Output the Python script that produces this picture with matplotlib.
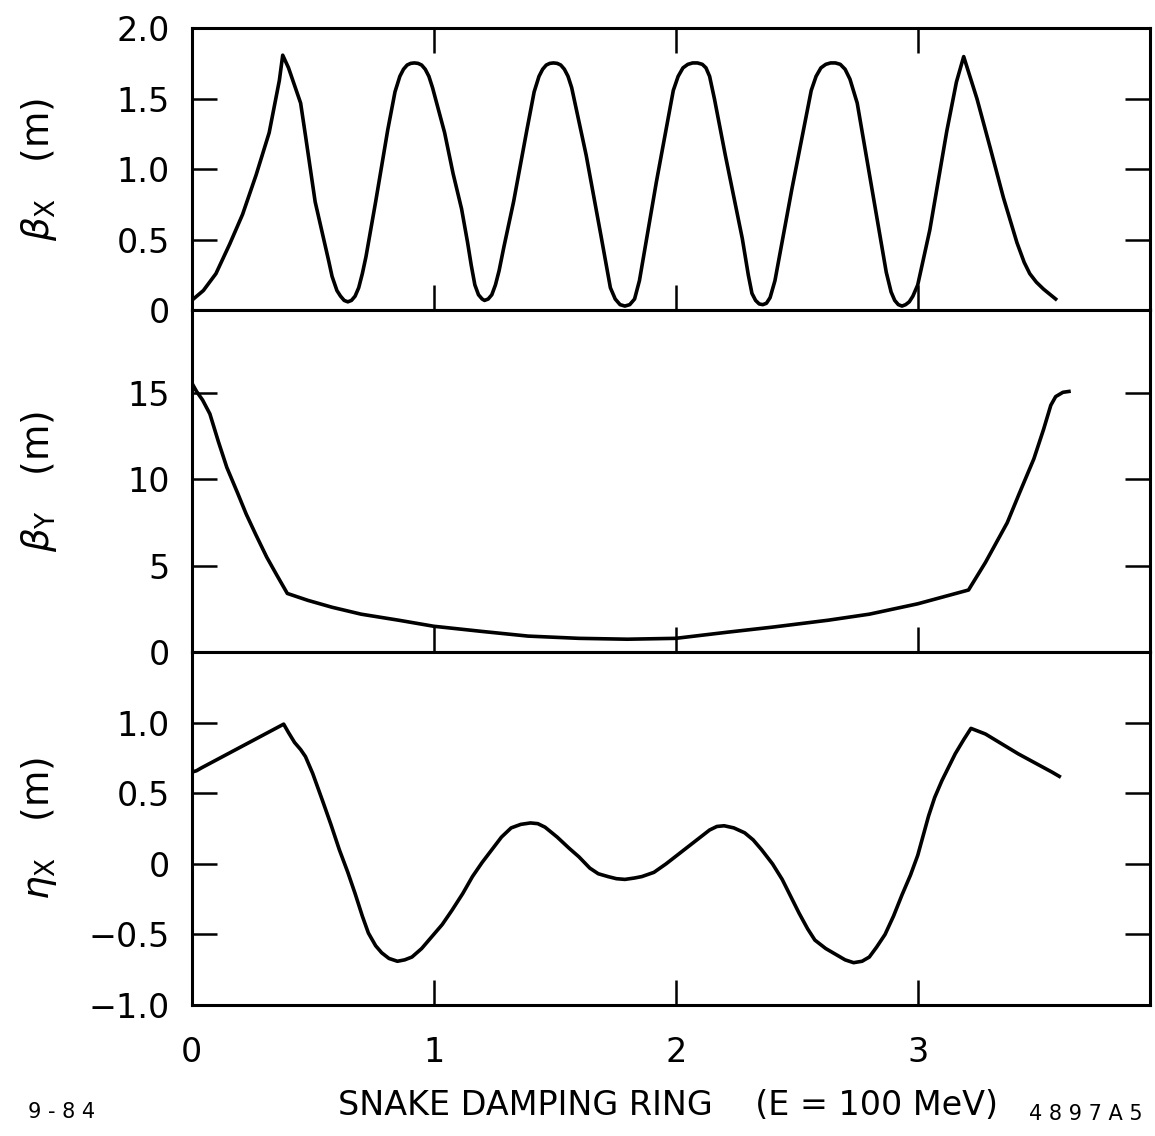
import matplotlib
matplotlib.use("Agg")
import matplotlib.pyplot as plt

# beta_x (m) along the ring
bx_s = [0.00, 0.048, 0.10, 0.157, 0.21, 0.266, 0.32, 0.362, 0.376, 0.40, 0.45, 0.47,
        0.51, 0.566, 0.58, 0.60, 0.615, 0.63, 0.645, 0.66, 0.675, 0.69, 0.705, 0.72,
        0.76, 0.81, 0.84, 0.86, 0.875, 0.89, 0.905, 0.92, 0.935, 0.95, 0.965, 0.98,
        0.995, 1.02, 1.045, 1.08, 1.115, 1.14, 1.155, 1.17, 1.185, 1.20, 1.21, 1.225,
        1.24, 1.255, 1.27, 1.29, 1.33, 1.385, 1.415, 1.435, 1.45, 1.465, 1.48, 1.495,
        1.51, 1.525, 1.54, 1.555, 1.57, 1.59, 1.61, 1.63, 1.69, 1.73, 1.75, 1.77,
        1.79, 1.81, 1.83, 1.85, 1.92, 1.99, 2.01, 2.03, 2.05, 2.07, 2.09, 2.11, 2.125,
        2.14, 2.16, 2.205, 2.275, 2.30, 2.315, 2.33, 2.345, 2.36, 2.375, 2.39, 2.41,
        2.48, 2.56, 2.58, 2.60, 2.62, 2.64, 2.66, 2.68, 2.70, 2.72, 2.75, 2.82, 2.87,
        2.89, 2.905, 2.92, 2.935, 2.95, 2.965, 2.98, 3.00, 3.05, 3.12, 3.16, 3.19,
        3.245, 3.30, 3.354, 3.41, 3.44, 3.463, 3.49, 3.52, 3.57]
bx_v = [0.07, 0.14, 0.26, 0.47, 0.68, 0.96, 1.26, 1.63, 1.81, 1.72, 1.47, 1.24,
        0.77, 0.35, 0.24, 0.14, 0.10, 0.07, 0.06, 0.07, 0.10, 0.16, 0.26, 0.38,
        0.77, 1.28, 1.55, 1.66, 1.71, 1.74, 1.752, 1.755, 1.752, 1.74, 1.71, 1.66,
        1.58, 1.42, 1.26, 0.97, 0.72, 0.48, 0.32, 0.18, 0.11, 0.08, 0.07, 0.08,
        0.11, 0.18, 0.28, 0.45, 0.77, 1.28, 1.55, 1.66, 1.71, 1.74, 1.752, 1.755,
        1.752, 1.74, 1.71, 1.66, 1.58, 1.42, 1.26, 1.10, 0.54, 0.16, 0.08, 0.04,
        0.03, 0.04, 0.08, 0.21, 0.91, 1.56, 1.66, 1.72, 1.745, 1.755, 1.755, 1.745, 1.72,
        1.66, 1.50, 1.10, 0.51, 0.25, 0.12, 0.07, 0.045, 0.04, 0.05, 0.09, 0.21,
        0.86, 1.56, 1.66, 1.72, 1.745, 1.755, 1.755, 1.745, 1.71, 1.64, 1.47, 0.77, 0.27,
        0.13, 0.07, 0.04, 0.03, 0.04, 0.06, 0.10, 0.18, 0.57, 1.27, 1.62, 1.80,
        1.50, 1.15, 0.80, 0.48, 0.34, 0.26, 0.20, 0.15, 0.08]

# beta_y (m)
by_s = [0.00, 0.02, 0.045, 0.075, 0.11, 0.145, 0.19, 0.225, 0.265, 0.31, 0.35, 0.395,
        0.48, 0.58, 0.70, 0.855, 1.00, 1.20, 1.39, 1.60, 1.80, 2.00, 2.21, 2.40, 2.63,
        2.80, 3.00, 3.21, 3.28, 3.37, 3.42, 3.48, 3.52, 3.55, 3.57, 3.60, 3.625]
by_v = [15.6, 15.1, 14.6, 13.8, 12.2, 10.7, 9.2, 8.0, 6.8, 5.5, 4.5, 3.4,
        3.0, 2.6, 2.2, 1.85, 1.5, 1.2, 0.93, 0.8, 0.75, 0.8, 1.15, 1.45, 1.85,
        2.2, 2.8, 3.6, 5.2, 7.5, 9.2, 11.2, 12.9, 14.3, 14.8, 15.05, 15.1]

# eta_x (m)
ex_s = [0.00, 0.02, 0.04, 0.38, 0.40, 0.425, 0.45, 0.47, 0.50, 0.54, 0.575, 0.61,
        0.645, 0.675, 0.705, 0.73, 0.76, 0.785, 0.815, 0.85, 0.88, 0.91, 0.95, 0.99,
        1.035, 1.075, 1.12, 1.16, 1.20, 1.24, 1.28, 1.32, 1.36, 1.40, 1.43, 1.46,
        1.51, 1.56, 1.60, 1.645, 1.68, 1.72, 1.755, 1.79, 1.83, 1.86, 1.91, 1.96,
        2.02, 2.08, 2.14, 2.17, 2.20, 2.24, 2.285, 2.32, 2.355, 2.40, 2.44, 2.475,
        2.51, 2.545, 2.575, 2.62, 2.67, 2.70, 2.735, 2.77, 2.80, 2.83, 2.865, 2.90,
        2.935, 2.97, 3.00, 3.045, 3.07, 3.10, 3.155, 3.19, 3.22, 3.28, 3.415, 3.555,
        3.585]
ex_v = [0.65, 0.66, 0.68, 0.99, 0.93, 0.86, 0.81, 0.76, 0.64, 0.45, 0.28, 0.10,
        -0.06, -0.21, -0.37, -0.49, -0.58, -0.63, -0.67, -0.69, -0.68, -0.66, -0.60, -0.52,
        -0.43, -0.33, -0.21, -0.09, 0.01, 0.10, 0.19, 0.255, 0.28, 0.29, 0.285, 0.26,
        0.19, 0.11, 0.05, -0.03, -0.07, -0.09, -0.105, -0.11, -0.10, -0.09, -0.06, 0.0,
        0.08, 0.16, 0.24, 0.265, 0.27, 0.255, 0.22, 0.17, 0.10, 0.0, -0.11, -0.23,
        -0.35, -0.46, -0.54, -0.60, -0.65, -0.68, -0.70, -0.69, -0.66, -0.59, -0.50, -0.37,
        -0.22, -0.08, 0.06, 0.34, 0.47, 0.59, 0.78, 0.88, 0.96, 0.92, 0.78, 0.65,
        0.62]

x_ticks = [0, 1, 2, 3]
bx_ticks = [0, 0.5, 1.0, 1.5, 2.0]
bx_labels = ["0", "0.5", "1.0", "1.5", "2.0"]
by_ticks = [0, 5, 10, 15]
ex_ticks = [-1.0, -0.5, 0, 0.5, 1.0]
ex_labels = ["\u22121.0", "\u22120.5", "0", "0.5", "1.0"]

plt.rcParams['font.family'] = ['DejaVu Sans']
plt.rcParams['mathtext.fontset'] = 'dejavusans'

fig, (ax1, ax2, ax3) = plt.subplots(3, 1, figsize=(11.55, 11.36), dpi=100, sharex=True,
                                    gridspec_kw=dict(height_ratios=[282, 342, 353], hspace=0))
fig.subplots_adjust(left=0.166, right=0.9957, top=0.975, bottom=0.1153)

lw = 2.6
ax1.plot(bx_s, bx_v, color='black', linewidth=lw, solid_joinstyle='round')
ax2.plot(by_s, by_v, color='black', linewidth=lw, solid_joinstyle='round')
ax3.plot(ex_s, ex_v, color='black', linewidth=lw, solid_joinstyle='round')

for ax in (ax1, ax2, ax3):
    for sp in ax.spines.values():
        sp.set_linewidth(2.2)
    ax.tick_params(direction='in', length=18, width=1.8, right=True,
                   labelsize=24, pad=16)
    ax.set_xlim(0, 3.96)
    ax.set_xticks(x_ticks)

ax1.tick_params(top=True)
ax1.set_ylim(0, 2.0)
ax1.set_yticks(bx_ticks)
ax1.set_yticklabels(bx_labels)

ax2.set_ylim(0, 19.8)
ax2.set_yticks(by_ticks)

ax3.set_ylim(-1.0, 1.5)
ax3.set_yticks(ex_ticks)
ax3.set_yticklabels(ex_labels)
ax3.set_xticklabels([str(t) for t in x_ticks])
ax3.tick_params(axis='x', pad=22)

ylab_kw = dict(fontsize=27)
ax1.set_ylabel(r'$\beta_{\mathrm{X}}$   (m)', **ylab_kw)
ax2.set_ylabel(r'$\beta_{\mathrm{Y}}$   (m)', **ylab_kw)
ax3.set_ylabel(r'$\eta_{\mathrm{X}}$   (m)', **ylab_kw)
for ax in (ax1, ax2, ax3):
    ax.yaxis.set_label_coords(-0.138, 0.5)

fig.text(0.578, 0.027, "SNAKE DAMPING RING    (E = 100 MeV)", fontsize=24,
         ha='center', va='center')
fig.text(0.053, 0.021, "9 - 8 4", fontsize=15, ha='center', va='center')
fig.text(0.94, 0.019, "4 8 9 7 A 5", fontsize=15, ha='center', va='center')

fig.savefig("out.png", dpi=100)
